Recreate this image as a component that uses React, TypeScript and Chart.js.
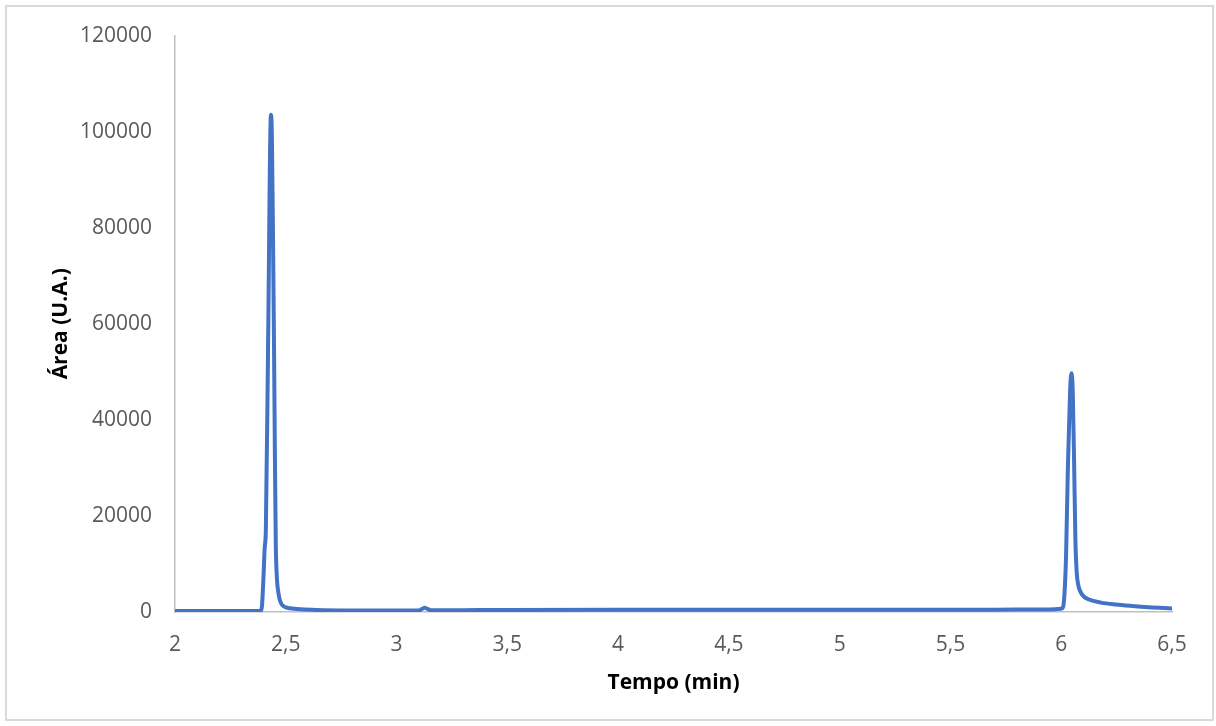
import React, { useEffect, useRef } from "react";
import { Chart, registerables } from "chart.js";

Chart.register(...registerables);

// Retention time (min)
const tempo: number[] = [
  2.0, 2.2, 2.38, 2.388, 2.393, 2.4, 2.405, 2.41, 2.42, 2.433, 2.437, 2.442,
  2.447, 2.451, 2.455, 2.46, 2.466, 2.472, 2.48, 2.49, 2.5, 2.518, 2.57, 2.639,
  2.79, 3.0, 3.1, 3.127, 3.155, 3.3, 3.5, 4.0, 4.5, 5.0, 5.5, 5.8, 5.95,
  6.0, 6.008, 6.015, 6.022, 6.03, 6.04, 6.046, 6.052, 6.058, 6.064, 6.07,
  6.077, 6.086, 6.1, 6.125, 6.18, 6.246, 6.32, 6.396, 6.5,
];

// Detector response (U.A.)
const area: number[] = [
  200, 200, 220, 260, 1500, 8000, 13500, 17000, 55000, 103500, 100000, 80000,
  55000, 32000, 14000, 7000, 4200, 2700, 1700, 1200, 950, 770, 550, 420,
  320, 300, 320, 900, 340, 380, 440, 470, 470, 470, 470, 500, 540,
  680, 1000, 4000, 12000, 30000, 46000, 49700, 46000, 31600, 15000, 8200,
  5600, 4300, 3300, 2600, 1950, 1550, 1250, 1000, 750,
];

const xTicks: number[] = [2, 2.5, 3, 3.5, 4, 4.5, 5, 5.5, 6, 6.5];
const yTicks: number[] = [0, 20000, 40000, 60000, 80000, 100000, 120000];

const xTitle = "Tempo (min)";
const yTitle = "Área (U.A.)";

export default function App() {
  const canvasRef = useRef<HTMLCanvasElement | null>(null);

  useEffect(() => {
    document.body.style.margin = "0";
    const canvas = canvasRef.current;
    if (!canvas) return;
    const points = tempo.map((t, i) => ({ x: t, y: area[i] }));
    const tickFont = { family: "'Open Sans', sans-serif", size: 21 };
    const titleFont = { family: "'Open Sans', sans-serif", size: 21, weight: "bold" as const };

    const chart = new Chart(canvas, {
      type: "line",
      data: {
        datasets: [
          {
            data: points,
            borderColor: "#4472C4",
            borderWidth: 4,
            pointRadius: 0,
            fill: false,
            cubicInterpolationMode: "monotone",
            borderCapStyle: "round",
            borderJoinStyle: "round",
          },
        ],
      },
      options: {
        responsive: false,
        animation: false,
        parsing: true,
        layout: { padding: { left: 0, right: 44, top: 35, bottom: 0 } },
        plugins: {
          legend: { display: false },
          tooltip: { enabled: false },
        },
        scales: {
          x: {
            type: "linear",
            min: xTicks[0],
            max: xTicks[xTicks.length - 1],
            afterBuildTicks: (scale: any) => {
              scale.ticks = xTicks.map((v) => ({ value: v }));
            },
            afterFit: (scale: any) => {
              scale.height = 114;
            },
            grid: { display: false, drawTicks: false },
            border: { display: true, color: "#bfbfbf", width: 1.5 },
            ticks: {
              autoSkip: false,
              maxRotation: 0,
              padding: 20,
              color: "#595959",
              font: tickFont,
              callback: (v: any) => String(v).replace(".", ","),
            },
            title: {
              display: true,
              text: xTitle,
              color: "#000000",
              font: titleFont,
              padding: { top: 0, bottom: 30 },
            },
          },
          y: {
            type: "linear",
            min: yTicks[0],
            max: yTicks[yTicks.length - 1],
            afterBuildTicks: (scale: any) => {
              scale.ticks = yTicks.map((v) => ({ value: v }));
            },
            afterFit: (scale: any) => {
              scale.width = 175;
            },
            grid: { display: false, drawTicks: false },
            border: { display: true, color: "#bfbfbf", width: 1.5 },
            ticks: {
              padding: 23,
              color: "#595959",
              font: tickFont,
              callback: (v: any) => String(v),
            },
            title: {
              display: true,
              text: yTitle,
              color: "#000000",
              font: titleFont,
              padding: { top: 48, bottom: 0 },
            },
          },
        },
      },
    });
    return () => chart.destroy();
  }, []);

  return (
    <div style={{ position: "relative", width: 1216, height: 726, background: "#ffffff" }}>
      <canvas ref={canvasRef} width={1216} height={726} style={{ display: "block" }} />
      <div
        style={{
          position: "absolute",
          left: 5,
          top: 5,
          width: 1209,
          height: 716,
          boxSizing: "border-box",
          border: "2px solid #d9d9d9",
          pointerEvents: "none",
        }}
      />
    </div>
  );
}
